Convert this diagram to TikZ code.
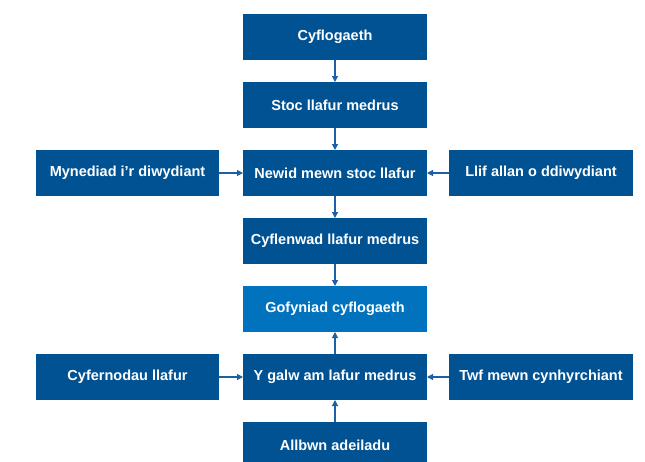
\documentclass[tikz,border=0pt]{standalone}
\usepackage{fontspec}
\setmainfont{Liberation Sans}
\usepackage{tikz}
\usetikzlibrary{
    positioning,
    arrows.meta
}
\definecolor{boxBlue}{RGB}{0, 82, 147}
\definecolor{boxLight}{RGB}{0, 114, 190}
\definecolor{lineBlue}{RGB}{30, 96, 166}

\begin{document}
\begin{tikzpicture}[x=1pt, y=-1pt, >={Triangle[length=6pt, width=6pt]},
    box/.style={fill=boxBlue, text=white, font=\bfseries\fontsize{14.5}{16}\selectfont,
        minimum width=184pt, minimum height=46pt, inner sep=0pt, outer sep=0pt},
    link/.style={->, lineBlue, line width=1.1pt}]
            \clip (0,0) rectangle (645,461);
            \fill[white] (0,0) rectangle (645,461);

            % centre column
            \node[box] (cyf) at (335,37) {Cyflogaeth};
            \node[box] (stoc) at (335,105) {Stoc llafur medrus};
            \node[box] (newid) at (335,173) {Newid mewn stoc llafur};
            \node[box] (cyflen) at (335,241) {Cyflenwad llafur medrus};
            \node[box, fill=boxLight] (gofyn) at (335,309) {Gofyniad cyflogaeth};
            \node[box] (galw) at (335,377) {Y galw am lafur medrus};
            \node[box] (allbwn) at (335,445) {Allbwn adeiladu};

            % side boxes
            \node[box, minimum width=183pt] (myned) at (127.5,173) {Mynediad i’r diwydiant};
            \node[box] (llif) at (541,173) {Llif allan o ddiwydiant};
            \node[box, minimum width=183pt] (cyfern) at (127.5,377) {Cyfernodau llafur};
            \node[box] (twf) at (541,377) {Twf mewn cynhyrchiant};

            \draw[link] (cyf) -- (stoc);
            \draw[link] (stoc) -- (newid);
            \draw[link] (newid) -- (cyflen);
            \draw[link] (cyflen) -- (gofyn);
            \draw[link] (galw) -- (gofyn);
            \draw[link] (allbwn) -- (galw);
            \draw[link] (myned) -- (newid);
            \draw[link] (llif) -- (newid);
            \draw[link] (cyfern) -- (galw);
            \draw[link] (twf) -- (galw);
        \end{tikzpicture}
\end{document}
